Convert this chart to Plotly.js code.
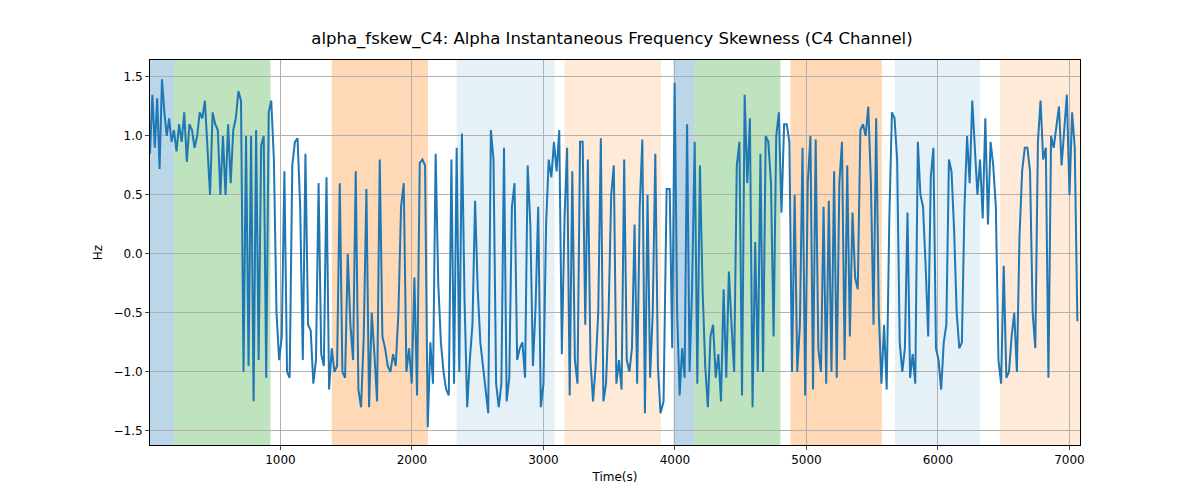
<!DOCTYPE html>
<html>
<head>
<meta charset="utf-8">
<script src="https://cdn.plot.ly/plotly-3.0.1.min.js"></script>
<style>body{margin:0;background:#fff}</style>
</head>
<body>
<div id="chart" style="width:1200px;height:500px"></div>
<script>
// time segments (s) and readings of alpha_fskew_C4 within each one
var segStart = [8, 190, 700, 930, 1390, 2120, 2340, 3080, 3160, 3890, 3960, 4130, 4790, 4850, 5550, 5650, 6300, 6440];
var segEnd   = [190, 700, 930, 1390, 2120, 2340, 3080, 3160, 3890, 3960, 4130, 4790, 4850, 5550, 5650, 6300, 6440, 7080];
var segValues = [
  [0.85,1.35,0.9,1.32,0.72,1.48,1.2,1.0,1.15,0.95],
  [1.05,0.87,1.1,0.95,1.2,0.78,1.1,1.05,0.9,1.0,1.2,1.15,1.3,0.95,0.5,1.2,1.1,1.05,0.5,1.0,0.5,1.1,0.6,1.05,1.15,1.38],
  [1.3,-1.0,1.0,-0.95,1.0,-1.25,1.05,-0.9,0.92,1.0,-1.05,1.2],
  [1.3,0.8,-0.5,-0.9,-0.7,0.7,-1.0,-1.05,0.75,0.95,0.98,0.4,-0.9,0.85,-0.6,-0.65,-1.1,-0.9,0.6,-0.85,-0.95,0.65,-1.15],
  [-0.8,-1.0,-0.95,0.6,-1.0,-1.05,0.0,-0.6,-0.9,0.7,-1.15,-1.3,-0.7,0.55,-1.3,-0.5,-0.85,-1.25,0.8,-0.7,-0.8,-0.95,-1.0,-0.85,-0.95,-0.5,0.4,0.6,-1.0,-0.8,-1.1,-0.2,-1.2,0.77,0.8,0.75],
  [-1.47,-0.75,-1.1,0.85,-0.25,-0.75,-1.0,-1.15,-1.2,0.8,-1.1],
  [0.9,-1.0,1.02,-0.4,-1.3,-0.9,-0.6,0.45,-0.3,-0.75,-0.95,-1.1,-1.35,1.05,0.8,-1.1,-1.3,-1.1,0.9,-1.25,-1.05,0.4,0.6,-0.9,-0.8,-0.75,-1.05,0.75,0.25,-0.95,-0.45,0.4,-1.3,-1.1,0.25,0.8,0.65],
  [0.95,0.7,1.05,-0.85],
  [0.3,0.9,-1.2,0.7,-0.9,-1.1,0.95,0.95,-0.6,0.8,-0.9,-1.25,-0.95,-0.5,0.98,-1.25,-1.1,-0.5,0.5,0.75,-1.1,-0.9,-1.15,0.8,-0.9,-1.0,-0.8,0.25,-1.1,0.4,0.97,-1.35,0.5,-1.05,-0.5,0.85,-0.95],
  [-1.35,-1.25,0.55],
  [0.55,-0.8,1.45,-0.5,-1.2,-0.8,-1.05,1.1,-1.0],
  [-0.3,0.95,-1.1,0.75,-0.3,-0.95,-1.3,-0.7,-0.6,-1.05,-0.85,-1.25,-0.3,-1.05,-0.15,-0.6,-1.0,0.75,0.95,-1.2,1.35,0.6,1.15,-1.3,0.1,-1.0,0.85,-1.0,1.0,0.95,0.6,-0.7,1.0],
  [1.2,0.35,1.1],
  [1.1,0.95,-1.0,0.5,-1.0,-0.6,0.9,-1.2,0.6,1.0,-1.15,0.97,-0.8,-1.0,0.4,-1.1,0.45,-1.0,0.7,-1.05,0.6,0.95,-0.9,0.75,-0.7,0.35,-0.2,-0.3,1.05,1.1,1.0,1.25,0.6,-0.6,1.15],
  [-0.5,-1.1,-0.6,-1.15,0.3],
  [1.2,1.15,0.8,-0.75,-1.0,-0.8,0.35,-1.05,-0.85,-1.1,0.95,0.5,0.4,-0.1,-0.7,0.65,0.9,-0.8,-0.9,-1.15,-0.75,-0.6,0.8,0.7,0.2,-0.5,-0.8,-0.75,0.4,1.0,0.6,1.3,0.9],
  [0.5,0.8,0.3,1.15,0.25,0.95,0.75],
  [0.4,-0.9,-1.1,-0.1,-1.05,-1.0,-0.7,-0.5,-1.0,0.15,0.7,0.9,0.9,0.7,-0.5,-0.8,0.95,1.3,0.8,0.9,-1.05,1.0,0.9,1.1,1.25,0.75,1.05,1.35,0.5,1.2,0.9,-0.57]
];

// shaded stage bands
var bandStart = [8, 190, 1390, 2340, 3160, 3990, 4145, 4878, 5672, 6473];
var bandEnd   = [190, 924, 2122, 3084, 3893, 4145, 4802, 5573, 6321, 7080];
var bandColor = ['rgba(31,119,180,0.3)','rgba(44,160,44,0.3)','rgba(255,127,14,0.3)','rgba(31,119,180,0.11)','rgba(255,127,14,0.16)',
                 'rgba(31,119,180,0.3)','rgba(44,160,44,0.3)','rgba(255,127,14,0.3)','rgba(31,119,180,0.11)','rgba(255,127,14,0.16)'];

var xs = [], ys = [];
for (var s = 0; s < segValues.length; s++) {
  var v = segValues[s];
  var n = v.length;
  for (var i = 0; i < n; i++) {
    xs.push(segStart[s] + (segEnd[s] - segStart[s]) * i / n);
    ys.push(v[i]);
  }
}

var shapes = [];
for (var b = 0; b < bandStart.length; b++) {
  shapes.push({type: 'rect', xref: 'x', yref: 'paper', x0: bandStart[b], x1: bandEnd[b], y0: 0, y1: 1,
    fillcolor: bandColor[b], line: {width: 0}, layer: 'below'});
}

var trace = {x: xs, y: ys, mode: 'lines', type: 'scatter', line: {color: '#1f77b4', width: 2}};

var layout = {
  width: 1200, height: 500,
  margin: {l: 150, r: 120, t: 60, b: 55},
  paper_bgcolor: '#fff', plot_bgcolor: 'rgba(0,0,0,0)',
  font: {family: 'DejaVu Sans', size: 12, color: '#000'},
  title: {text: 'alpha_fskew_C4: Alpha Instantaneous Frequency Skewness (C4 Channel)', font: {size: 16.5}, x: 0.51, y: 0.935},
  showlegend: false,
  shapes: shapes,
  xaxis: {range: [8, 7080], tickvals: [1000,2000,3000,4000,5000,6000,7000], showgrid: true, gridcolor: '#b0b0b0',
    zeroline: false, showline: true, mirror: true, linecolor: '#000', ticks: 'outside', ticklen: 4,
    title: {text: 'Time(s)', standoff: 6, font: {size: 12}}},
  yaxis: {range: [-1.62, 1.644], tickvals: [-1.5,-1,-0.5,0,0.5,1,1.5], ticktext: ['−1.5','−1.0','−0.5','0.0','0.5','1.0','1.5'],
    showgrid: true, gridcolor: '#b0b0b0', zeroline: false, showline: true, mirror: true, linecolor: '#000',
    ticks: 'outside', ticklen: 4, title: {text: 'Hz', standoff: 8, font: {size: 12}}}
};

Plotly.newPlot('chart', [trace], layout, {displayModeBar: false});
</script>
</body>
</html>
